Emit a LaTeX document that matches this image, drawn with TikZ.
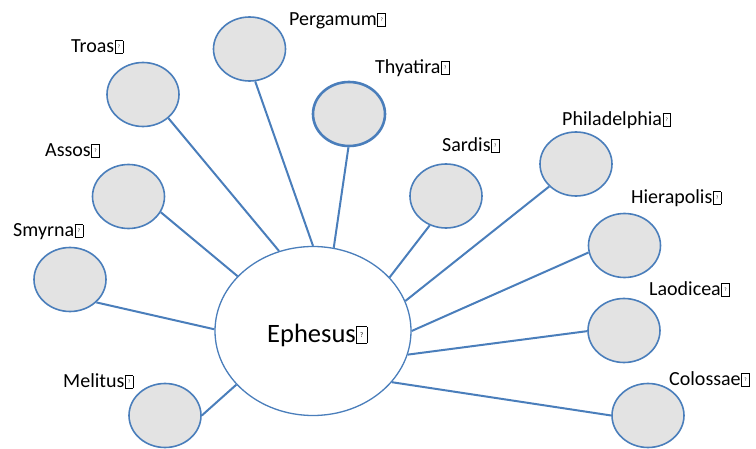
\documentclass[tikz,border=0pt]{standalone}
\usepackage{fontspec}
\setmainfont{Carlito}
\usetikzlibrary{shapes.geometric}
\definecolor{olblue}{HTML}{4A7EBB}
\definecolor{cfill}{HTML}{E3E3E3}
\newcommand\tofu[1][5]{\kern0.6pt{\setlength\fboxsep{0pt}\setlength\fboxrule{0.6pt}\fbox{\parbox[b][0.6em][c]{0.36em}{\centering\fontsize{#1}{#1}\selectfont ?}}}}
\begin{document}
\begin{tikzpicture}[x=1pt,y=-1pt,
  city/.style={ellipse,draw=olblue,fill=cfill,line width=1.6pt,minimum width=72pt,minimum height=64pt,inner sep=0pt},
  hub/.style={ellipse,draw=olblue,fill=white,line width=1.3pt,minimum width=196pt,minimum height=169pt,inner sep=0pt},
  lbl/.style={anchor=base west,inner sep=0pt,font=\fontsize{20}{24}\selectfont},
  hublbl/.style={anchor=base west,inner sep=0pt,font=\fontsize{26.5}{30}\selectfont},
  conn/.style={draw=olblue,line width=2pt}]
\useasboundingbox (0,0) rectangle (756,449);
% circles
\node[city] (pergamum) at (249.5,49) {};
\node[city,line width=2.6pt] (thyatira) at (349,114) {};
\node[city] (troas) at (143,94.5) {};
\node[city] (assos) at (128.5,196.5) {};
\node[city] (smyrna) at (70,279.5) {};
\node[city] (sardis) at (446,196) {};
\node[city] (philadelphia) at (576,164) {};
\node[city] (hierapolis) at (624.5,245.5) {};
\node[city] (laodicea) at (624,330.5) {};
\node[city] (colossae) at (648,415.5) {};
\node[city] (melitus) at (165,415.5) {};
\node[hub] (ephesus) at (313,331) {};
\node[hublbl] (ephlabel) at (267,343) {Ephesus\tofu[7]};
% labels
\node[lbl] (lpergamum) at (289,26) {Pergamum\tofu};
\node[lbl] (lthyatira) at (375,74) {Thyatira\tofu};
\node[lbl] (ltroas) at (71,53) {Troas\tofu};
\node[lbl] (lassos) at (45,157) {Assos\tofu};
\node[lbl] (lsmyrna) at (13,237) {Smyrna\tofu};
\node[lbl] (lsardis) at (442,152) {Sardis\tofu};
\node[lbl] (lphiladelphia) at (562,126) {Philadelphia\tofu};
\node[lbl] (lhierapolis) at (631,204) {Hierapolis\tofu};
\node[lbl] (llaodicea) at (649,296) {Laodicea\tofu};
\node[lbl] (lcolossae) at (669,386) {Colossae\tofu};
\node[lbl] (lmelitus) at (63,388) {Melitus\tofu};
% connectors
\draw[conn] (troas.-43) -- (ephesus.113.6);
\draw[conn] (pergamum.-80) -- (ephesus.90);
\draw[conn] (thyatira.269) -- (ephesus.76.8);
\draw[conn] (sardis.241) -- (ephesus.35.3);
\draw[conn] (philadelphia.220) -- (ephesus.18.2);
\draw[conn] (hierapolis.191.6) -- (ephesus.0.6);
\draw[conn] (laodicea.181) -- (ephesus.-14.2);
\draw[conn] (colossae.180) -- (ephesus.-33.4);
\draw[conn] (melitus.0) -- (ephesus.215.1);
\draw[conn] (smyrna.319) -- (ephesus.179.4);
\draw[conn] (assos.-26) -- (ephesus.144);
\end{tikzpicture}
\end{document}
